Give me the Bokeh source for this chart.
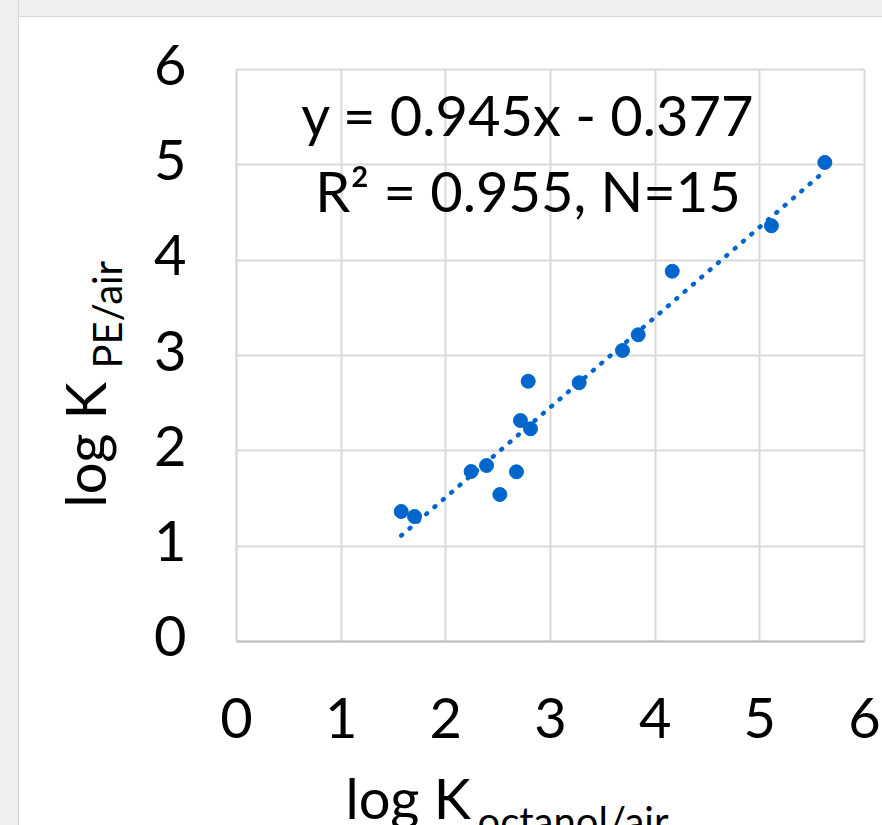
import numpy as np
from bokeh.plotting import figure
from bokeh.models import Label, Range1d, FixedTicker, Spacer, ColumnDataSource
from bokeh.core.properties import value
from bokeh.layouts import row, column
from bokeh.embed import file_html
from bokeh.resources import INLINE

# data
log_k_octanol_air = [1.574, 1.701, 2.242, 2.389, 2.516, 2.675, 2.713, 2.809, 2.787,
                     3.274, 3.688, 3.838, 4.163, 5.111, 5.621]
log_k_pe_air = [1.364, 1.311, 1.783, 1.846, 1.542, 1.780, 2.318, 2.231, 2.730,
                2.714, 3.053, 3.217, 3.884, 4.361, 5.025]
slope = 0.945
intercept = -0.377
eq_line1 = "y = 0.945x - 0.377"
eq_line2 = "R\u00b2 = 0.955, N=15"
ticks = [0, 1, 2, 3, 4, 5, 6]
tick_labels = ["0", "1", "2", "3", "4", "5", "6"]

FONT = "Lato"
BLUE = "#0066cc"
GRID = "#d9d9d9"

# frame fills the whole canvas; axes sit at data 0 so titles can live inside it
p = figure(frame_width=863, frame_height=808,
           x_range=Range1d(-2.0732, 6.1720), y_range=Range1d(-1.9301, 6.5455),
           output_backend="svg", toolbar_location=None,
           min_border=0, background_fill_color="white", border_fill_color="white")
p.outline_line_color = None

for ax in (p.xaxis[0], p.yaxis[0]):
    ax.fixed_location = 0
    ax.bounds = (0, 6)
    ax.ticker = FixedTicker(ticks=ticks)
    ax.major_tick_line_color = None
    ax.minor_tick_line_color = None
    ax.major_label_text_font = FONT
    ax.major_label_text_font_size = "56px"
    ax.major_label_text_color = "black"
p.xaxis.axis_line_color = "#bfbfbf"
p.xaxis.axis_line_width = 2
p.xaxis.major_label_standoff = 51
p.xaxis.major_label_overrides = {t: s for t, s in zip(ticks, tick_labels)}
p.yaxis.axis_line_color = GRID
p.yaxis.axis_line_width = 2
p.yaxis.major_label_text_alpha = 0

# y tick labels, centred on their gridlines
ysrc = ColumnDataSource(dict(x=[0] * len(ticks), y=ticks, t=tick_labels))
p.text(x="x", y="y", text="t", source=ysrc, x_offset=-50, y_offset=-5,
       text_align="right", text_baseline="middle", text_color="black",
       text_font=value(FONT), text_font_size=value("56px"))

for g in (p.xgrid[0], p.ygrid[0]):
    g.ticker = FixedTicker(ticks=ticks)
    g.bounds = (0, 6)
    g.cross_bounds = (0, 6)
    g.grid_line_color = GRID
    g.grid_line_width = 2

# trendline over the data range
xs = np.array([min(log_k_octanol_air), max(log_k_octanol_air)])
p.line(xs, slope * xs + intercept, line_color=BLUE, line_width=4.5,
       line_dash="1 10", line_cap="round")

p.scatter(log_k_octanol_air, log_k_pe_air, size=14, fill_color=BLUE,
          line_color=BLUE, marker="circle")

# equation text
for txt, yy in ((eq_line1, 5.528), (eq_line2, 4.731)):
    p.add_layout(Label(x=2.785, y=yy, text=txt, text_font=FONT,
                       text_font_size="56px", text_align="center",
                       text_baseline="alphabetic", text_color="black"))

# axis titles with subscripts
p.add_layout(Label(x=-1.4522, y=1.4056, text="log K", angle=np.pi / 2,
                   text_font=FONT, text_font_size="56px", text_color="black",
                   text_align="left", text_baseline="alphabetic"))
p.add_layout(Label(x=-1.2363, y=2.864, text="PE/air", angle=np.pi / 2,
                   text_font=FONT, text_font_size="40px", text_color="black",
                   text_align="left", text_baseline="alphabetic"))
p.add_layout(Label(x=1.0414, y=-1.6364, text="log K",
                   text_font=FONT, text_font_size="56px", text_color="black",
                   text_align="left", text_baseline="alphabetic"))
p.add_layout(Label(x=2.3026, y=-1.8839, text="octanol/air",
                   text_font=FONT, text_font_size="40px", text_color="black",
                   text_align="left", text_baseline="alphabetic"))

left_strip = Spacer(width=19, height=825,
                    styles={"background-color": "#efefef",
                            "box-shadow": "inset -1px 0 0 #d6d6d6"})
top_strip = Spacer(width=863, height=17,
                   styles={"background-color": "#efefef",
                           "box-shadow": "inset 0 -1px 0 #d6d6d6"})
layout = row(left_strip, column(top_strip, p))

open("out.html", "w").write(file_html(layout, INLINE))
